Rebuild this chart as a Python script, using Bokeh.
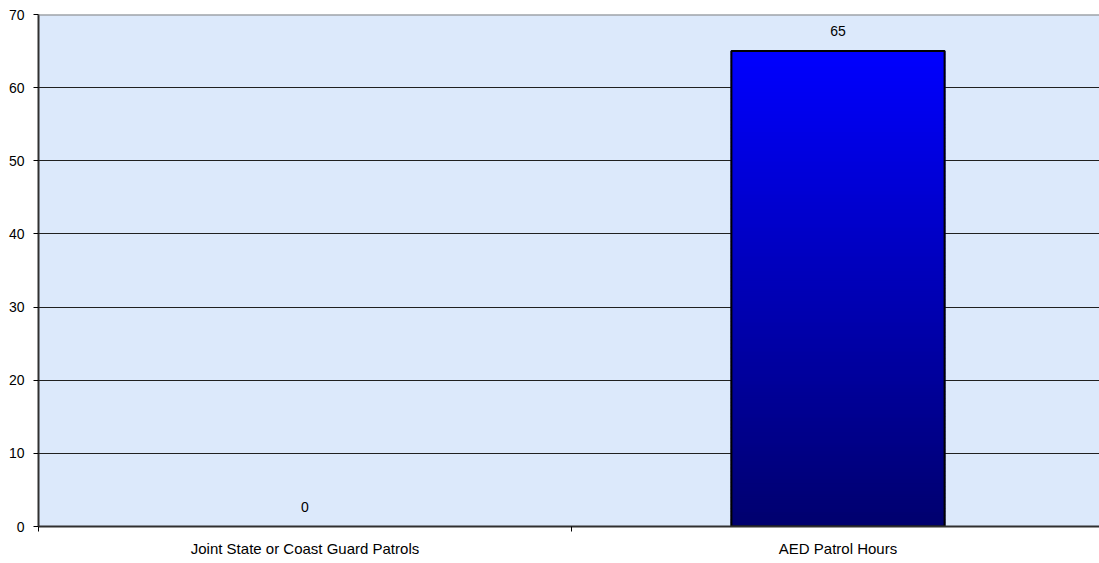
from bokeh.plotting import figure
from bokeh.models import FixedTicker, Range1d, ColumnDataSource, Span
from bokeh.embed import file_html
from bokeh.resources import INLINE
from bokeh.core.properties import value

categories = ["Joint State or Coast Guard Patrols", "AED Patrol Hours"]
values = [0, 65]
y_ticks = [0, 10, 20, 30, 40, 50, 60, 70]

FRAME_W = 1061
FULL_W = 1066  # plot area in reference extends slightly past the window
p = figure(width=1099, height=563, output_backend="svg", toolbar_location=None,
           x_range=Range1d(0, len(categories) * FRAME_W / FULL_W), y_range=Range1d(0, 70),
           min_border_left=38, min_border_right=0, min_border_top=14, min_border_bottom=37)
p.frame_width = FRAME_W
p.frame_height = 512
p.background_fill_color = "#dce9fb"
p.border_fill_color = "white"
p.outline_line_color = None

p.add_layout(Span(location=70, dimension="width", line_color="#808080", line_width=2))

# gradient bar slices
N = 130
top_c = (0, 0, 255)
bot_c = (0, 0, 110)
for i, v in enumerate(values):
    if v <= 0:
        continue
    x = i + 0.5
    b, t, cols = [], [], []
    for k in range(N):
        b.append(v * k / N)
        t.append(v * (k + 1) / N)
        f = (k + 0.5) / N
        r = int(bot_c[0] + (top_c[0] - bot_c[0]) * f)
        g = int(bot_c[1] + (top_c[1] - bot_c[1]) * f)
        bb = int(bot_c[2] + (top_c[2] - bot_c[2]) * f)
        cols.append("#%02x%02x%02x" % (r, g, bb))
    p.quad(left=[x - 0.2] * N, right=[x + 0.2] * N, bottom=b, top=t,
           fill_color=cols, line_color=cols, line_width=1.5)
    p.quad(left=[x - 0.2], right=[x + 0.2], bottom=[0], top=[v],
           fill_color=None, line_color="black", line_width=2)

src = ColumnDataSource(dict(x=[i + 0.5 for i in range(len(values))], y=values,
                            t=[str(v) for v in values]))
p.text(x="x", y="y", text="t", source=src, text_align="center", text_baseline="alphabetic",
       y_offset=-20, text_font=value("Liberation Sans"), text_font_size="14px",
       text_color="black")

p.xgrid.visible = False
p.ygrid.ticker = FixedTicker(ticks=y_ticks)
p.ygrid.grid_line_color = "#202020"
p.ygrid.grid_line_width = 1

p.yaxis.ticker = FixedTicker(ticks=y_ticks)
p.yaxis.major_tick_out = 5
p.yaxis.major_tick_in = 0
p.yaxis.major_tick_line_color = "black"
p.yaxis.minor_tick_line_color = None
p.yaxis.axis_line_color = "#303030"
p.yaxis.axis_line_width = 2
p.yaxis.major_label_text_font = "Liberation Sans"
p.yaxis.major_label_text_font_size = "14px"
p.yaxis.major_label_text_color = "black"
p.yaxis.major_label_standoff = 9

p.xaxis.ticker = FixedTicker(ticks=[i + 0.5 for i in range(len(categories))],
                             minor_ticks=list(range(len(categories) + 1)))
p.xaxis.major_label_overrides = {i + 0.5: c for i, c in enumerate(categories)}
p.xaxis.major_tick_line_color = None
p.xaxis.minor_tick_out = 5
p.xaxis.minor_tick_in = 0
p.xaxis.minor_tick_line_color = "black"
p.xaxis.axis_line_color = "#303030"
p.xaxis.axis_line_width = 2
p.xaxis.major_label_text_font = "Liberation Sans"
p.xaxis.major_label_text_font_size = "15px"
p.xaxis.major_label_text_color = "black"
p.xaxis.major_label_standoff = 7

open("out.html", "w").write(file_html(p, INLINE))
